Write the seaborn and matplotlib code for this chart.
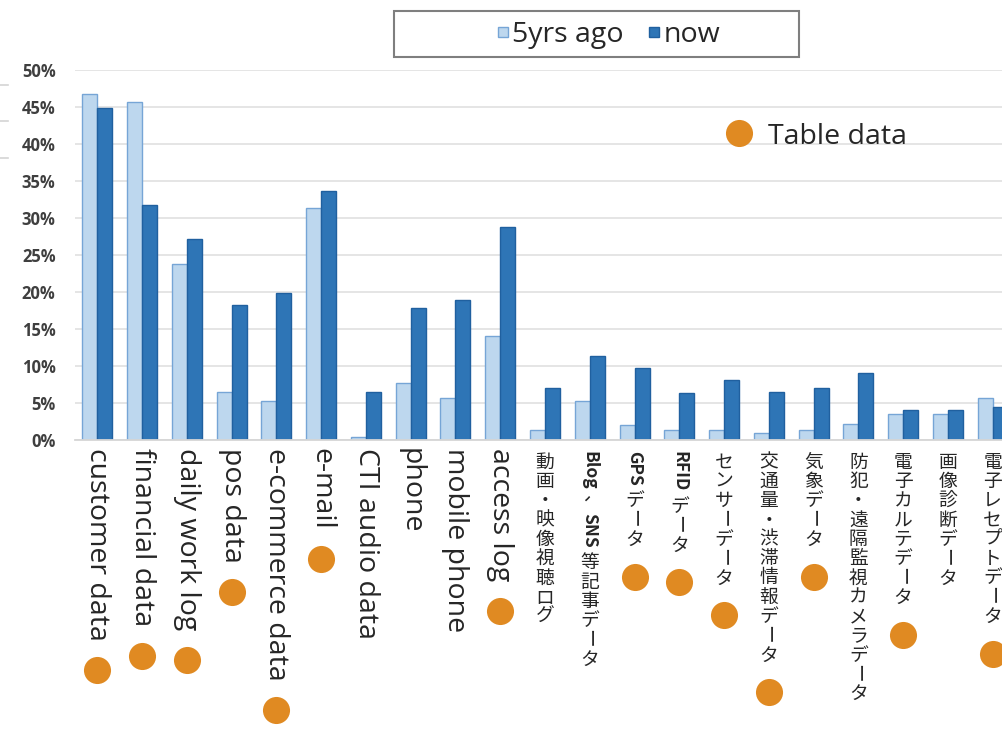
import matplotlib
matplotlib.use("Agg")
import matplotlib.pyplot as plt
import numpy as np
import pandas as pd
import seaborn as sns
from matplotlib.lines import Line2D
from matplotlib.patches import Rectangle, Patch
from matplotlib.ticker import FuncFormatter

# ---- data -------------------------------------------------------------
categories = [
    "customer data", "financial data", "daily work log", "pos data",
    "e-commerce data", "e-mail", "CTI audio data", "phone", "mobile phone",
    "access log", "動画・映像視聴ログ", "Blog、SNS等記事データ", "GPSデータ",
    "RFIDデータ", "センサーデータ", "交通量・渋滞情報データ", "気象データ",
    "防犯・遠隔監視カメラデータ", "電子カルテデータ", "画像診断データ",
    "電子レセプトデータ",
]
five_years_ago = [46.8, 45.7, 23.8, 6.5, 5.3, 31.3, 0.4, 7.7, 5.7, 14.0,
                  1.3, 5.3, 2.0, 1.3, 1.3, 1.0, 1.3, 2.2, 3.5, 3.5, 5.7]
now = [44.8, 31.8, 27.2, 18.3, 19.9, 33.7, 6.5, 17.9, 18.9, 28.8,
       7.0, 11.3, 9.7, 6.3, 8.1, 6.5, 7.0, 9.1, 4.1, 4.1, 4.5]
# categories that are available as table data (orange markers)
table_data = [True, True, True, True, True, True, False, False, False, True,
              False, False, True, True, True, True, True, False, True, False,
              True]
series_names = ["5yrs ago", "now"]
y_ticks = [0, 5, 10, 15, 20, 25, 30, 35, 40, 45, 50]
marker_label = "Table data"

# ---- style ------------------------------------------------------------
LIGHT, LIGHT_EDGE = "#BDD7EE", "#76A5D6"
DARK, DARK_EDGE = "#2E75B6", "#20609F"
ORANGE = "#E08A22"
GRID = "#E3E3E3"
TEXT = "#262626"
LATIN = "Open Sans"
CJK = "Noto Sans CJK JP"

W, H, DPI = 1002, 730, 100
fig = plt.figure(figsize=(W / DPI, H / DPI), dpi=DPI)
fig.patch.set_facecolor("white")
ax = fig.add_axes([75 / W, 290 / H, 940 / W, 370 / H])

df = pd.DataFrame({
    "category": categories * 2,
    "series": [series_names[0]] * len(categories) + [series_names[1]] * len(categories),
    "value": five_years_ago + now,
})

sns.barplot(data=df, x="category", y="value", hue="series",
            order=categories, hue_order=series_names,
            palette={series_names[0]: LIGHT, series_names[1]: DARK},
            saturation=1, width=0.67, legend=False, ax=ax)

for container, edge in zip(ax.containers, [LIGHT_EDGE, DARK_EDGE]):
    for bar in container:
        bar.set_edgecolor(edge)
        bar.set_linewidth(1.0)

ax.set_ylim(0, 50)
ax.set_yticks(y_ticks)
ax.yaxis.set_major_formatter(FuncFormatter(lambda v, _: f"{v:.0f}%"))
ax.grid(axis="y", color=GRID, linewidth=1.3)
ax.set_axisbelow(True)
for side in ["top", "right", "left"]:
    ax.spines[side].set_visible(False)
ax.spines["bottom"].set_color("#D6D6D6")
ax.spines["bottom"].set_linewidth(1.3)
ax.set_xlabel("")
ax.set_ylabel("")
ax.tick_params(axis="y", length=0, pad=14)
ax.tick_params(axis="x", length=0, pad=6)
for lab in ax.get_yticklabels():
    lab.set_fontfamily(LATIN)
    lab.set_fontweight("bold")
    lab.set_fontsize(12)
    lab.set_color("#3F3F3F")


def is_latin(s):
    return all(ord(c) < 128 for c in s)


ax.set_xticks(range(len(categories)))
ax.set_xticklabels([c if is_latin(c) else "" for c in categories],
                   rotation=270, fontsize=20.5, fontfamily=LATIN, color=TEXT)

fig.canvas.draw()
renderer = fig.canvas.get_renderer()
px = DPI / 72.0

# ---- vertical (tategaki) labels for the Japanese categories ------------
JP_SIZE = 13.5
em = JP_SIZE * px * 1.03
label_bottom = {}


def split_runs(s):
    runs = []
    for ch in s:
        if ord(ch) < 128 and runs and runs[-1][0] == "latin":
            runs[-1][1] += ch
        elif ord(ch) < 128:
            runs.append(["latin", ch])
        else:
            runs.append(["cjk", ch])
    return runs


for i, cat in enumerate(categories):
    if is_latin(cat):
        bb = ax.get_xticklabels()[i].get_window_extent(renderer)
        label_bottom[i] = bb.y0
        continue
    cursor = 11.0
    for kind, run in split_runs(cat):
        if kind == "latin":
            t = ax.annotate(run, xy=(i, 0), xycoords=("data", "axes fraction"),
                            xytext=(0, -cursor), textcoords="offset pixels",
                            rotation=270, ha="center", va="top",
                            fontsize=JP_SIZE - 1, fontfamily=CJK,
                            fontweight="bold", color=TEXT)
            cursor += t.get_window_extent(renderer).height + 4
        elif run in "ー、":
            ax.annotate(run, xy=(i, 0), xycoords=("data", "axes fraction"),
                        xytext=(0, -(cursor + em / 2)), textcoords="offset pixels",
                        rotation=270, rotation_mode="anchor",
                        ha="center", va="center",
                        fontsize=JP_SIZE, fontfamily=CJK, color=TEXT)
            cursor += em
        else:
            ax.annotate(run, xy=(i, 0), xycoords=("data", "axes fraction"),
                        xytext=(0, -(cursor + 0.86 * em)), textcoords="offset pixels",
                        ha="center", va="baseline",
                        fontsize=JP_SIZE, fontfamily=CJK, color=TEXT)
            cursor += em
    y_axis = ax.transAxes.transform((0, 0))[1]
    label_bottom[i] = y_axis - cursor

# ---- orange markers below the categories with table data ---------------
DOT = 19.5
for i, flag in enumerate(table_data):
    if not flag:
        continue
    x_disp = ax.transData.transform((i, 0))[0]
    y_disp = label_bottom[i] - 29
    fig.add_artist(Line2D([x_disp / W], [y_disp / H], transform=fig.transFigure,
                          marker="o", markersize=DOT, color=ORANGE,
                          markeredgewidth=0, linestyle="none"))

# marker key
fig.add_artist(Line2D([739 / W], [(H - 133) / H], transform=fig.transFigure,
                      marker="o", markersize=DOT, color=ORANGE,
                      markeredgewidth=0, linestyle="none"))
fig.text(768 / W, (H - 144) / H, marker_label, fontsize=20.5,
         fontfamily=LATIN, color=TEXT, va="baseline", ha="left")

# ---- series legend in a framed box ------------------------------------
fig.add_artist(Rectangle((394 / W, (H - 57) / H), 405 / W, 46 / H,
                         transform=fig.transFigure, facecolor="white",
                         edgecolor="#7F7F7F", linewidth=1.5))
handles = [Patch(facecolor=LIGHT, edgecolor=LIGHT_EDGE, linewidth=1),
           Patch(facecolor=DARK, edgecolor=DARK_EDGE, linewidth=1)]
leg = fig.legend(handles, series_names, loc="center",
                 bbox_to_anchor=(609 / W, (H - 35) / H), ncol=2, frameon=False,
                 prop={"family": LATIN, "size": 20.5},
                 handlelength=0.34, handleheight=0.15, handletextpad=0.15,
                 columnspacing=0.9, borderpad=0)
for txt in leg.get_texts():
    txt.set_color(TEXT)

# faint fragments along the left margin
for yy in [85, 121, 158]:
    fig.add_artist(Line2D([0, 8 / W], [(H - yy) / H] * 2, transform=fig.transFigure,
                          color="#D4D4D4", linewidth=1.2))

fig.savefig("out.png", dpi=DPI, facecolor="white")
